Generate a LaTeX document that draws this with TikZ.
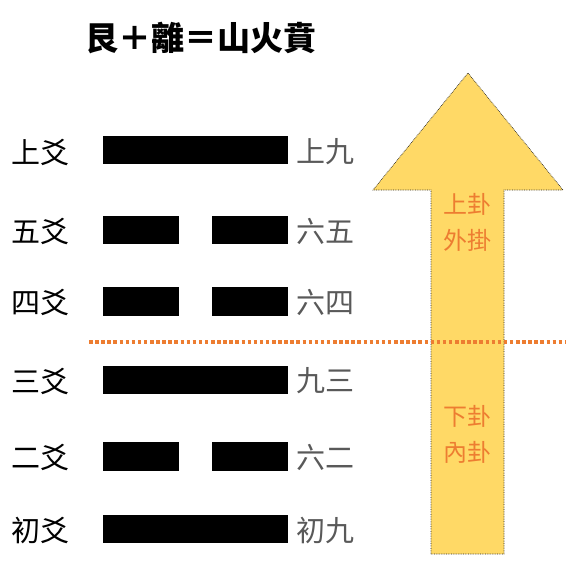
\documentclass[tikz,border=0pt]{standalone}
\usepackage{fontspec}
\newfontfamily\cjk{Noto Sans CJK TC}
\definecolor{labgray}{HTML}{595959}
\definecolor{arrowfill}{HTML}{FFD966}
\definecolor{accent}{HTML}{ED7D31}
\begin{document}
\begin{tikzpicture}[x=1pt,y=-1pt,
  bar/.style={fill=black},
  lbl/.style={font=\cjk\fontsize{29}{29}\selectfont, inner sep=0pt, anchor=center},
  rlbl/.style={lbl, text=labgray, anchor=west},
  gua/.style={font=\cjk\fontsize{24}{36}\selectfont, text=accent, inner sep=0pt, align=center},
  titlestyle/.style={font=\cjk\bfseries\fontsize{33}{33}\selectfont, inner sep=0pt}]
\useasboundingbox (0,0) rectangle (566,572);

% title
\node[titlestyle] (title) at (200.5,38) {艮＋離＝山火賁};

% arrow
\draw[fill=arrowfill, draw=black!85, line width=0.7pt, densely dotted]
  (431,554) -- (431,190) -- (373,190) -- (468,73) -- (563,190) -- (504,190) -- (504,554) -- cycle;

% divider
\coordinate (dl) at (89,342);
\coordinate (dr) at (566,342);
\draw[accent, line width=3.5pt, dash pattern=on 3.5pt off 2.6pt] (dl) -- (dr);

% arrow texts
\node[gua] (upper) at (467,222.5) {上卦\\外掛};
\node[gua] (lower) at (467,434) {下卦\\內卦};

% lines: yang
\foreach \y in {150,380,529}{
  \fill[bar] (103,\y-14.3) rectangle (288,\y+14.3);
}
% lines: yin
\foreach \y in {230,301.3,456.3}{
  \fill[bar] (102.5,\y-14.3) rectangle (178.5,\y+14.3);
  \fill[bar] (212,\y-14.3) rectangle (288,\y+14.3);
}

% left labels
\node[lbl] (l6) at (40.5,152) {上爻};
\node[lbl] (l5) at (40.5,231) {五爻};
\node[lbl] (l4) at (40.5,302) {四爻};
\node[lbl] (l3) at (40.5,381) {三爻};
\node[lbl] (l2) at (40.5,457) {二爻};
\node[lbl] (l1) at (40.5,530) {初爻};

% right labels
\node[rlbl] (r6) at (296,152) {上九};
\node[rlbl] (r5) at (296,231) {六五};
\node[rlbl] (r4) at (296,302) {六四};
\node[rlbl] (r3) at (296,381) {九三};
\node[rlbl] (r2) at (296,457) {六二};
\node[rlbl] (r1) at (296,530) {初九};
\end{tikzpicture}
\end{document}
